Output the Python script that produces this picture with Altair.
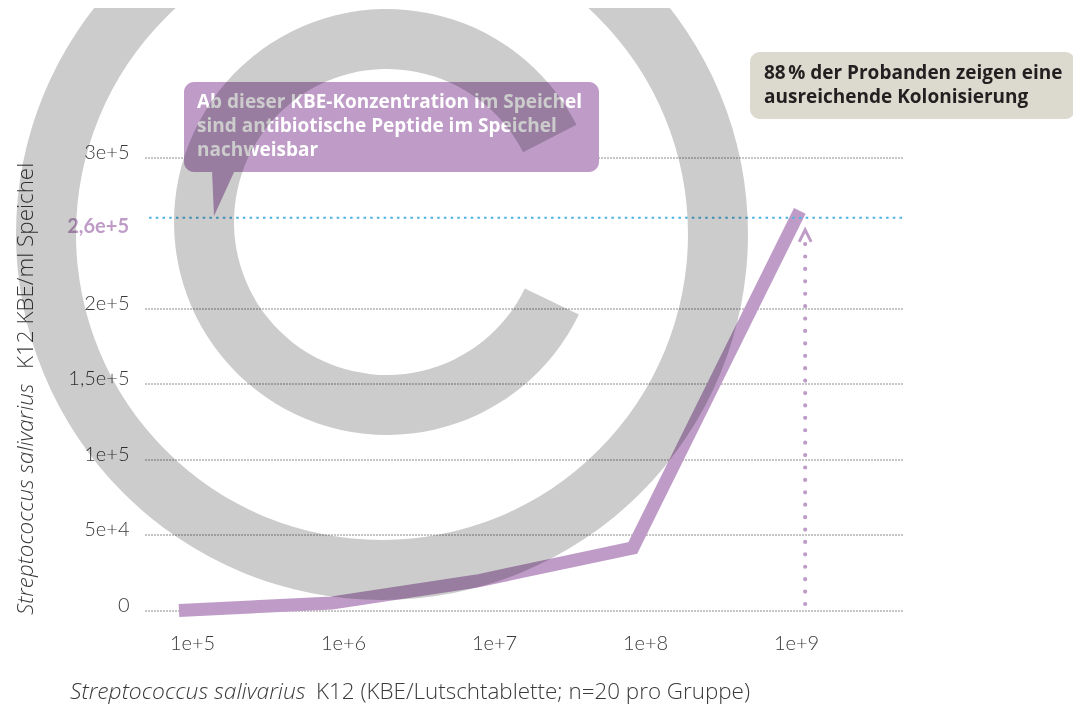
import altair as alt
import pandas as pd

# ---------------- data ----------------
dose = [8.2e4, 8.45e5, 7.7e6, 8.3e7, 1.06e9]          # KBE / Lutschtablette
kbe = [0, 5.0e3, 19.5e3, 41.4e3, 2.646e5]             # KBE / ml Speichel
x_ticks = [1e5, 1e6, 1e7, 1e8, 1e9]
y_ticks = [0, 5e4, 1e5, 1.5e5, 2e5, 3e5]
threshold = 2.6e5
threshold_label = "2,6e+5"
arrow_x = 1.15e9
arrow_y = [4.3e3, 2.44e5]
arrow_head_y = 2.48e5
box1_lines = ["Ab dieser KBE-Konzentration im Speichel",
              "sind antibiotische Peptide im Speichel",
              "nachweisbar"]
box2_lines = ["88\u202f% der Probanden zeigen eine",
              "ausreichende Kolonisierung"]
x_title = ["Streptococcus salivarius", "K12 (KBE/Lutschtablette; n=20 pro Gruppe)"]
y_title = ["Streptococcus salivarius", "K12 KBE/ml Speichel"]

# ---------------- styles ----------------
PURPLE = "#bf9cc8"
BLUE = "#4ab3e2"
BEIGE = "#dcd9ce"
GREY_WM = "#cccccc"
TXT = "#3a3a3a"
FONT = "Lato"
TFONT = "Open Sans"
W, H = 757, 574
X0, Y0 = 143, 36.5   # page position of plot origin

df = pd.DataFrame({"dose": dose, "kbe": kbe})
one = pd.DataFrame({"a": [1]})

xs = alt.Scale(type="log", domain=[48840, 5.035e9], nice=False)
ys = alt.Scale(domain=[0, 3.8e5], nice=False, zero=True)

base_line = alt.Chart(df).mark_line(
    color=PURPLE, strokeWidth=13, strokeJoin="miter", strokeCap="butt"
).encode(
    x=alt.X("dose:Q", scale=xs, title=None,
            axis=alt.Axis(values=x_ticks, grid=False, domain=False, ticks=False,
                          labelExpr="replace(format(datum.value, '~e'), '.', ',')",
                          labelBaseline="middle", labelPadding=33,
                          labelFontSize=20, labelColor=TXT, labelFont=FONT,
                          labelFontWeight=300)),
    y=alt.Y("kbe:Q", scale=ys, title=None,
            axis=alt.Axis(values=y_ticks, grid=True, domain=False, ticks=False,
                          gridDash=[1, 2], gridColor="#1a1a1a", gridWidth=1,
                          labelExpr="datum.value == 0 ? '0' : replace(format(datum.value, '~e'), '.', ',')",
                          labelPadding=16, labelOffset=-5,
                          labelFontSize=20, labelColor=TXT, labelFont=FONT,
                          labelFontWeight=300)),
)

thr_rule = alt.Chart(one).mark_rule(
    color=BLUE, strokeWidth=2, strokeDash=[2.5, 4.2]
).encode(y=alt.datum(threshold))

thr_label = alt.Chart(one).mark_text(
    align="right", baseline="middle", dy=9, fontSize=20, fontWeight="bold",
    color=PURPLE, font=FONT
).encode(x=alt.value(-16), y=alt.datum(threshold), text=alt.value(threshold_label))

arrow_rule = alt.Chart(one).mark_rule(
    color=PURPLE, strokeWidth=4.2, strokeDash=[0.01, 12.4], strokeCap="round"
).encode(x=alt.datum(arrow_x), y=alt.datum(arrow_y[0]), y2=alt.datum(arrow_y[1]))

arrow_head = alt.Chart(one).mark_point(
    shape="M -1 1 L 0 -1 L 1 1", filled=False, strokeWidth=3, color=PURPLE,
    size=144, opacity=1, strokeJoin="miter"
).encode(x=alt.datum(arrow_x), y=alt.datum(arrow_head_y))

box1 = alt.Chart(one).mark_rect(color=PURPLE, cornerRadius=10).encode(
    x=alt.value(182 - X0), x2=alt.value(597 - X0),
    y=alt.value(82 - Y0), y2=alt.value(172 - Y0))
tail = alt.Chart(one).mark_point(
    shape="M -0.435 -1 L 0.565 -1 L -0.348 1 Z", filled=True, color=PURPLE,
    size=46 * 46, opacity=1, strokeWidth=0
).encode(x=alt.value(220 - X0), y=alt.value(193 - Y0))
box1_text = alt.Chart(one).mark_text(
    align="left", baseline="alphabetic", fontSize=19, fontWeight="bold",
    color="white", font=TFONT, lineHeight=24
).encode(x=alt.value(195 - X0), y=alt.value(108 - Y0), text=alt.value(box1_lines))

box2 = alt.Chart(one).mark_rect(color=BEIGE, cornerRadius=10).encode(
    x=alt.value(748 - X0), x2=alt.value(1073 - X0),
    y=alt.value(52 - Y0), y2=alt.value(119 - Y0))
box2_text = alt.Chart(one).mark_text(
    align="left", baseline="alphabetic", fontSize=19, fontWeight="bold",
    color="#231f20", font=TFONT, lineHeight=24
).encode(x=alt.value(762 - X0), y=alt.value(79 - Y0), text=alt.value(box2_lines))

xt1 = alt.Chart(one).mark_text(
    align="left", baseline="alphabetic", fontSize=22.8, fontStyle="italic",
    fontWeight=300, color=TXT, font=TFONT
).encode(x=alt.value(68 - X0), y=alt.value(699 - Y0), text=alt.value(x_title[0]))
xt2 = alt.Chart(one).mark_text(
    align="left", baseline="alphabetic", fontSize=22.4,
    fontWeight=300, color=TXT, font=TFONT
).encode(x=alt.value(314 - X0), y=alt.value(699 - Y0), text=alt.value(x_title[1]))

yt1 = alt.Chart(one).mark_text(
    align="left", baseline="middle", angle=270, fontSize=22.4, fontStyle="italic",
    fontWeight=300, color=TXT, font=TFONT
).encode(x=alt.value(24 - X0), y=alt.value(615 - Y0), text=alt.value(y_title[0]))
yt2 = alt.Chart(one).mark_text(
    align="left", baseline="middle", angle=270, fontSize=22.4,
    fontWeight=300, color=TXT, font=TFONT
).encode(x=alt.value(24 - X0), y=alt.value(369 - Y0), text=alt.value(y_title[1]))

# watermark (copyright sign), multiplied over everything
ring = alt.Chart(one).mark_arc(
    color=GREY_WM, blend="multiply", radius=366, radius2=306, theta=0, theta2=6.2832
).encode(x=alt.value(380 - X0), y=alt.value(234 - Y0))
c_arc = alt.Chart(one).mark_arc(
    color=GREY_WM, blend="multiply", radius=213, radius2=153, theta=2.02, theta2=7.38
).encode(x=alt.value(385 - X0), y=alt.value(222 - Y0))

chart = alt.layer(
    base_line, thr_rule, thr_label, arrow_rule, arrow_head,
    box1, tail, box1_text, box2, box2_text,
    xt1, xt2, yt1, yt2, ring, c_arc
).properties(
    width=W, height=H,
    padding={"left": 137, "top": 28.5, "right": 171, "bottom": 94},
    autosize=alt.AutoSizeParams(type="none"),
    background="white",
).configure_view(stroke=None)

chart.save("out.html", embed_options={"renderer": "svg", "actions": False})
